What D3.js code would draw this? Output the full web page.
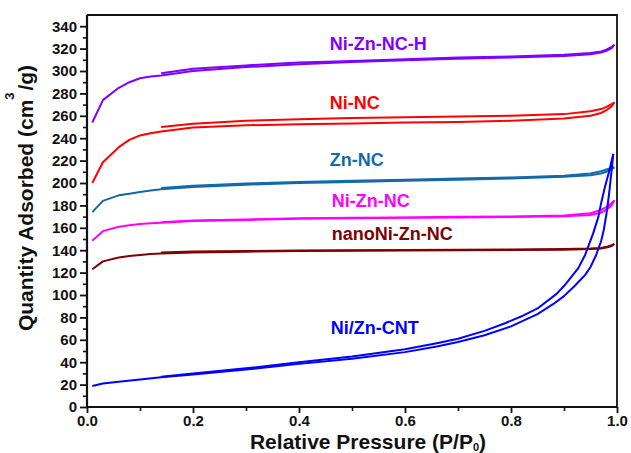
<!DOCTYPE html>
<html>
<head>
<meta charset="utf-8">
<script src="https://cdn.jsdelivr.net/npm/d3@7"></script>
<style>
  html, body { margin: 0; padding: 0; background: #fff; }
  svg { display: block; }
  text { font-family: "Liberation Sans", Arial, sans-serif; font-weight: bold; }
</style>
</head>
<body>
<svg id="chart" width="631" height="453"></svg>
<script>
// ---------- data ----------
const xTicks = [0.0, 0.2, 0.4, 0.6, 0.8, 1.0];
const yTicks = [0, 20, 40, 60, 80, 100, 120, 140, 160, 180, 200, 220, 240, 260, 280, 300, 320, 340];

const seriesNames = ["Ni-Zn-NC-H", "Ni-NC", "Zn-NC", "Ni-Zn-NC", "nanoNi-Zn-NC", "Ni/Zn-CNT"];
const seriesColors = ["#7f00ff", "#ff0000", "#1469a8", "#ff00ff", "#7f0000", "#0000ff"];

// adsorption / desorption relative pressures
const adsP_std = [0.01, 0.03, 0.06, 0.08, 0.10, 0.12, 0.14, 0.2, 0.3, 0.4, 0.5, 0.6, 0.7, 0.8, 0.9, 0.95, 0.97, 0.98, 0.99, 0.995];
const desP_std = [0.995, 0.99, 0.98, 0.97, 0.95, 0.9, 0.8, 0.7, 0.6, 0.5, 0.4, 0.3, 0.2, 0.14];

const niZnNCH_ads = [254, 274, 285, 290, 293.5, 295, 296, 300, 303.5, 306, 308, 309.5, 311, 312, 313.5, 315, 316.5, 318, 320.5, 323.5];
const niZnNCH_des = [323.5, 321.5, 319, 317.5, 316, 314.5, 313, 312, 310.5, 309, 307.5, 305, 302, 298];

const niNC_ads = [200, 218.5, 232, 238.5, 242.5, 244.5, 246, 249.5, 251.5, 252.5, 253.2, 254, 254.5, 255.5, 257.5, 260, 262.5, 265, 268.5, 272];
const niNC_des = [272, 270.5, 268, 266, 264, 261.5, 260, 259.3, 258.7, 258, 257, 255.5, 253, 250];

const znNC_ads = [174, 184, 189, 190.5, 192, 193.3, 194.5, 196.5, 198.5, 200, 201, 202, 203, 204, 205.5, 207, 208.5, 210, 212.5, 214];
const znNC_des = [214, 213.5, 212, 210.5, 208.5, 206.5, 205, 204, 203, 202, 201, 199.5, 197.5, 195.5];

const niZnNC_ads = [148.5, 157, 161, 162.3, 163.3, 164, 164.5, 166, 167, 168, 168.5, 169, 169.3, 169.7, 170.3, 171.5, 173.5, 176, 180, 184.5];
const niZnNC_des = [184.5, 182, 178.5, 176, 173, 171, 170.2, 169.8, 169.3, 169, 168.5, 167.5, 166.5, 165];

const nanoNiZnNC_ads = [123, 130, 133.5, 134.8, 135.8, 136.5, 137, 138, 138.7, 139.2, 139.5, 139.8, 140, 140.2, 140.5, 141, 141.5, 142.3, 143.8, 145.5];
const nanoNiZnNC_des = [145.5, 144.5, 143, 142, 141.5, 141, 140.7, 140.4, 140.2, 140, 139.7, 139.3, 138.8, 138];

const cnt_adsP = [0.01, 0.03, 0.06, 0.10, 0.14, 0.2, 0.3, 0.4, 0.5, 0.6, 0.66, 0.7, 0.75, 0.8, 0.85, 0.88, 0.9, 0.92, 0.94, 0.95, 0.96, 0.97, 0.975, 0.98, 0.985, 0.99, 0.993];
const cnt_adsV = [18.7, 21, 22.5, 24.5, 26.5, 29, 33.5, 38.5, 43, 49, 54, 58, 64, 72, 83, 92, 99, 108, 118, 125, 135, 148, 158, 172, 190, 212, 226];
const cnt_desP = [0.993, 0.99, 0.985, 0.977, 0.97, 0.965, 0.955, 0.94, 0.927, 0.9, 0.886, 0.85, 0.82, 0.79, 0.75, 0.7, 0.66, 0.6, 0.5, 0.4, 0.3, 0.2, 0.14];
const cnt_desV = [226, 220, 210, 196, 182, 170, 155, 136, 124, 108, 101, 88, 81, 75, 68, 61, 57, 51.5, 45, 40, 34.5, 30, 27];

const branches = [
  { s: 0, P: adsP_std, V: niZnNCH_ads }, { s: 0, P: desP_std, V: niZnNCH_des },
  { s: 1, P: adsP_std, V: niNC_ads },    { s: 1, P: desP_std, V: niNC_des },
  { s: 2, P: adsP_std, V: znNC_ads },    { s: 2, P: desP_std, V: znNC_des },
  { s: 3, P: adsP_std, V: niZnNC_ads },  { s: 3, P: desP_std, V: niZnNC_des },
  { s: 4, P: adsP_std, V: nanoNiZnNC_ads }, { s: 4, P: desP_std, V: nanoNiZnNC_des },
  { s: 5, P: cnt_adsP, V: cnt_adsV },    { s: 5, P: cnt_desP, V: cnt_desV }
];

// label anchors (data coords)
const labelP = [0.458, 0.458, 0.458, 0.462, 0.462, 0.460];
const labelV = [318.5, 266, 215, 178.5, 149, 65];

// ---------- layout ----------
const svg = d3.select("#chart");
const x = d3.scaleLinear().domain([0, 1.0]).range([87, 617]);
const y = d3.scaleLinear().domain([0, 350]).range([407, 15]);

// frame (top & right)
svg.append("path")
  .attr("d", `M${x(0)},${y(350)}H${x(1)}V${y(0)}`)
  .attr("fill", "none").attr("stroke", "#111").attr("stroke-width", 1.8);

// minor ticks
const xAxisMinor = d3.axisBottom(x).tickValues(d3.range(0.1, 1.0, 0.2)).tickSize(4).tickFormat("");
const yAxisMinor = d3.axisLeft(y).tickValues(d3.range(10, 350, 20)).tickSize(4).tickFormat("");
svg.append("g").attr("transform", `translate(0,${y(0)})`).call(xAxisMinor)
  .call(g => g.select(".domain").remove())
  .call(g => g.selectAll("line").attr("stroke", "#111").attr("stroke-width", 1.6));
svg.append("g").attr("transform", `translate(${x(0)},0)`).call(yAxisMinor)
  .call(g => g.select(".domain").remove())
  .call(g => g.selectAll("line").attr("stroke", "#111").attr("stroke-width", 1.6));

// major axes
const xAxis = d3.axisBottom(x).tickValues(xTicks).tickSize(6).tickSizeOuter(0).tickPadding(2)
  .tickFormat(d3.format(".1f"));
const yAxis = d3.axisLeft(y).tickValues(yTicks).tickSize(7).tickSizeOuter(0).tickPadding(3)
  .tickFormat(d3.format("d"));

const gx = svg.append("g").attr("transform", `translate(0,${y(0)})`).call(xAxis);
gx.select(".domain").attr("stroke", "#111").attr("stroke-width", 2.2)
  .attr("d", `M${x(0)},0H${x(1)}`);
gx.selectAll("line").attr("stroke", "#111").attr("stroke-width", 1.8);
gx.selectAll("text").attr("font-size", 15).attr("fill", "#111")
  .style("font-family", "'Liberation Sans', Arial, sans-serif").style("font-weight", "bold");

const gy = svg.append("g").attr("transform", `translate(${x(0)},0)`).call(yAxis);
gy.select(".domain").attr("stroke", "#111").attr("stroke-width", 2.2)
  .attr("d", `M0,${y(0)}V${y(350)}`);
gy.selectAll("line").attr("stroke", "#111").attr("stroke-width", 1.8);
gy.selectAll("text").attr("font-size", 15).attr("fill", "#111")
  .style("font-family", "'Liberation Sans', Arial, sans-serif").style("font-weight", "bold");

// curves
const line = d3.line().x(d => x(d[0])).y(d => y(d[1])).curve(d3.curveLinear);
const gCurves = svg.append("g");
branches.forEach(b => {
  const pts = b.P.map((p, i) => [p, b.V[i]]);
  gCurves.append("path")
    .attr("d", line(pts))
    .attr("fill", "none")
    .attr("stroke", seriesColors[b.s])
    .attr("stroke-width", 2)
    .attr("stroke-linejoin", "round");
});

// series labels
seriesNames.forEach((n, i) => {
  svg.append("text")
    .attr("x", x(labelP[i])).attr("y", y(labelV[i]))
    .attr("font-size", 18).attr("fill", seriesColors[i])
    .text(n);
});

// axis titles
const xt = svg.append("text")
  .attr("x", 368).attr("y", 449)
  .attr("text-anchor", "middle").attr("font-size", 21).attr("fill", "#111");
xt.append("tspan").text("Relative Pressure (P/P");
xt.append("tspan").attr("font-size", 11).attr("dy", 2).text("0");
xt.append("tspan").attr("dy", -2).text(")");

const yt = svg.append("text")
  .attr("transform", `translate(33,198) rotate(-90)`)
  .attr("text-anchor", "middle").attr("font-size", 21).attr("fill", "#111");
yt.append("tspan").text("Quantity Adsorbed (cm ");
yt.append("tspan").attr("font-size", 13).attr("dy", -19).attr("dx", -6).text("3");
yt.append("tspan").attr("dy", 19).attr("dx", 2).text("/g)");
</script>
</body>
</html>
